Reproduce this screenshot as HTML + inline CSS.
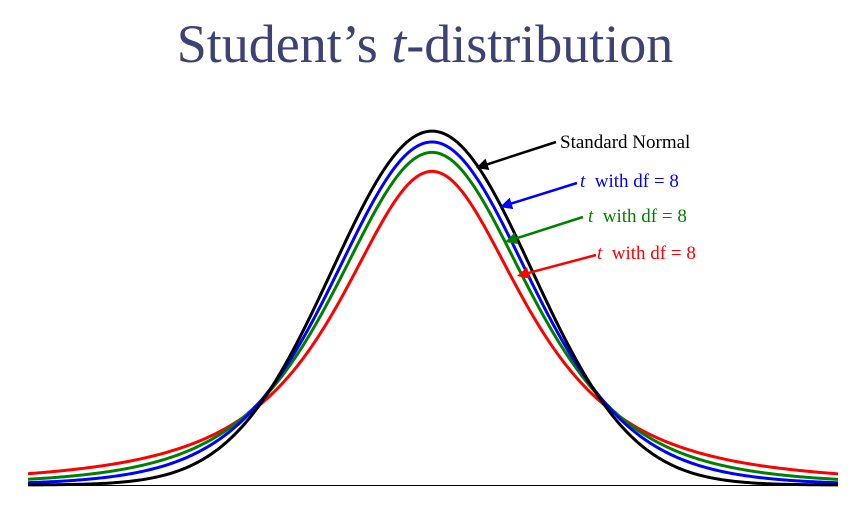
<!DOCTYPE html>
<html><head><meta charset="utf-8"><style>
html,body{margin:0;padding:0;background:#fff;}
svg{display:block;}
</style></head><body>
<svg id="chart" width="866" height="520" viewBox="0 0 866 520" xmlns="http://www.w3.org/2000/svg">
<text x="425" y="62" text-anchor="middle" font-family="Liberation Serif, serif" font-size="54" fill="#3d4275">Student’s <tspan font-style="italic">t</tspan>-distribution</text>
<line x1="28" y1="485.5" x2="838" y2="485.5" stroke="#000" stroke-width="1"/>
<g id="curves"></g>
<g id="annotations"></g>
</svg>
<script>
// Data: distributions (df = Infinity means standard normal)
const seriesNames = ['t-df-2', 't-df-4', 't-df-8', 'standard-normal'];
const seriesDf = [2, 4, 8, Infinity];
const seriesColors = ['#ff0000', '#008000', '#0000ff', '#000000'];
const labelTexts = ['Standard Normal', 'with df = 8', 'with df = 8', 'with df = 8'];
const xDomain = [-4.04, 4.06];

const NS = 'http://www.w3.org/2000/svg';
const X0 = 28, X1 = 838, BASE = 485, YSCALE = 887;
function xScale(t){ return X0 + (t - xDomain[0]) / (xDomain[1] - xDomain[0]) * (X1 - X0); }
function yScale(d){ return BASE - d * YSCALE; }
function lgamma(z){
  const g=7, c=[0.99999999999980993,676.5203681218851,-1259.1392167224028,771.32342877765313,-176.61502916214059,12.507343278686905,-0.13857109526572012,9.9843695780195716e-6,1.5056327351493116e-7];
  z-=1; let x=c[0]; for(let i=1;i<g+2;i++) x+=c[i]/(z+i);
  const t=z+g+0.5; return 0.5*Math.log(2*Math.PI)+(z+0.5)*Math.log(t)-t+Math.log(x);
}
function pdf(t, df){
  if(!isFinite(df)) return Math.exp(-t*t/2)/Math.sqrt(2*Math.PI);
  const lc = lgamma((df+1)/2) - lgamma(df/2) - 0.5*Math.log(df*Math.PI);
  return Math.exp(lc - (df+1)/2*Math.log(1+t*t/df));
}
const g = document.getElementById('curves');
seriesDf.forEach((df, i) => {
  let d = '';
  for(let k=0;k<=400;k++){
    const t = xDomain[0] + (xDomain[1]-xDomain[0])*k/400;
    d += (k?'L':'M') + xScale(t).toFixed(2) + ',' + yScale(pdf(t, df)).toFixed(2);
  }
  const p = document.createElementNS(NS, 'path');
  p.setAttribute('d', d);
  p.setAttribute('fill', 'none');
  p.setAttribute('stroke', seriesColors[i]);
  p.setAttribute('stroke-width', '3');
  
  
  g.appendChild(p);
});
const ann = document.getElementById('annotations');
const annColors = ['#000000', '#0000ff', '#008000', '#ff0000'];
const annGeom = [[556,142,476,168,560,148],[577,183,500,207,580,187],[583,217,505,242,588,222],[596,255,517,276,597,259]];
annGeom.forEach((a, i) => {
  const [x1,y1,x2,y2,tx,ty] = a;
  const ln = document.createElementNS(NS, 'line');
  const ang = Math.atan2(y2-y1, x2-x1);
  ln.setAttribute('x1', x1); ln.setAttribute('y1', y1);
  ln.setAttribute('x2', x2 - 8*Math.cos(ang)); ln.setAttribute('y2', y2 - 8*Math.sin(ang));
  ln.setAttribute('stroke', annColors[i]); ln.setAttribute('stroke-width', '2.5');
  
  
  ann.appendChild(ln);
  const hd = document.createElementNS(NS, 'polygon');
  const L=12, W=6;
  const bx = x2 - L*Math.cos(ang), by = y2 - L*Math.sin(ang);
  const px = -Math.sin(ang)*W, py = Math.cos(ang)*W;
  hd.setAttribute('points', `${x2},${y2} ${bx+px},${by+py} ${bx-px},${by-py}`);
  hd.setAttribute('fill', annColors[i]);
  
  
  ann.appendChild(hd);
  const tx_ = document.createElementNS(NS, 'text');
  tx_.setAttribute('x', tx); tx_.setAttribute('y', ty);
  tx_.setAttribute('font-family', 'Liberation Serif, serif');
  tx_.setAttribute('font-size', '19');
  tx_.setAttribute('fill', annColors[i]);
  
  
  if(i===0){ tx_.textContent = labelTexts[i]; }
  else {
    const it = document.createElementNS(NS, 'tspan');
    it.setAttribute('font-style', 'italic'); it.textContent = 't';
    tx_.appendChild(it);
    tx_.appendChild(document.createTextNode('  ' + labelTexts[i]));
    tx_.setAttribute('xml:space', 'preserve');
    tx_.style.whiteSpace = 'pre';
  }
  ann.appendChild(tx_);
});
</script>
</body></html>
